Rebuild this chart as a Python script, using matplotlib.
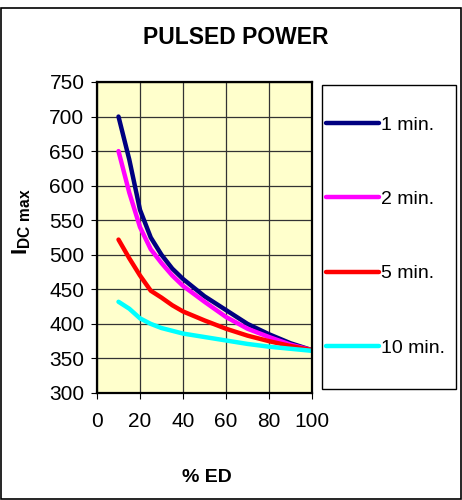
import numpy as np
import matplotlib
matplotlib.use('Agg')
import matplotlib.pyplot as plt
from matplotlib.patches import Rectangle

plt.rcParams['font.family'] = ['Liberation Sans', 'DejaVu Sans']
plt.rcParams['mathtext.fontset'] = 'custom'
plt.rcParams['mathtext.rm'] = 'Liberation Sans'
plt.rcParams['mathtext.bf'] = 'Liberation Sans:bold'

# % ED
ed = [10, 15, 20, 25, 30, 35, 40, 50, 60, 70, 80, 90, 100]
# I_DC max for each duration
i_1min = [700, 638, 565, 525, 500, 480, 465, 440, 420, 400, 385, 372, 362]
i_2min = [650, 590, 540, 508, 488, 470, 455, 432, 410, 393, 381, 370, 362]
i_5min = [522, 495, 470, 448, 438, 427, 418, 405, 393, 383, 375, 368, 362]
i_10min = [432, 422, 408, 400, 394, 390, 386, 381, 376, 371, 367, 364, 361]
labels = ['1 min.', '2 min.', '5 min.', '10 min.']
colors = ['#000080', '#FF00FF', '#FF0000', '#00FFFF']

W, H = 462, 500
fig = plt.figure(figsize=(W/100, H/100), dpi=100)
fig.patches.append(Rectangle((0.002, 0.002), 0.996, 0.982, transform=fig.transFigure,
                             fill=False, edgecolor='black', linewidth=1.2))
# legend box
fig.patches.append(Rectangle((322/W, 1-389/H), 134/W, 304/H, transform=fig.transFigure,
                             fill=False, edgecolor='black', linewidth=1.0))

ax = fig.add_axes([97/W, 1-393/H, 215/W, 311/H])
ax.set_facecolor('#FFFFCC')

handles = []
for ys, lab, c in zip([i_1min, i_2min, i_5min, i_10min], labels, colors):
    h, = ax.plot(ed, ys, color=c, linewidth=3.2, label=lab, solid_capstyle='round')
    handles.append(h)

ax.set_xlim(0, 100)
ax.set_ylim(300, 750)
ax.set_xticks(np.arange(0, 101, 20))
ax.set_yticks(np.arange(300, 751, 50))
ax.grid(True, color='#333333', linewidth=0.9)
ax.set_axisbelow(True)
for s in ax.spines.values():
    s.set_linewidth(1.6)
    s.set_color('black')
ax.tick_params(direction='out', length=4, width=0.8, labelsize=15, pad=5)
ax.tick_params(axis='x', pad=10)

fig.text(236/W, 1-38/H, 'PULSED POWER', ha='center', va='center',
         fontsize=16.5, fontweight='bold')
fig.text(207/W, 1-478/H, '% ED', ha='center', va='center',
         fontsize=14, fontweight='bold')
fig.text(22/W, 1-222/H, r'$\mathbf{I_{DC\ max}}$', ha='center', va='center',
         rotation=90, fontsize=16)

leg = fig.legend(handles=handles, loc='upper left',
                 bbox_to_anchor=(326/W, 1-116/H), fontsize=14,
                 frameon=False, labelspacing=2.92, borderpad=0,
                 handlelength=2.7, handletextpad=0.15, borderaxespad=0)

fig.savefig('out.png', dpi=100)
